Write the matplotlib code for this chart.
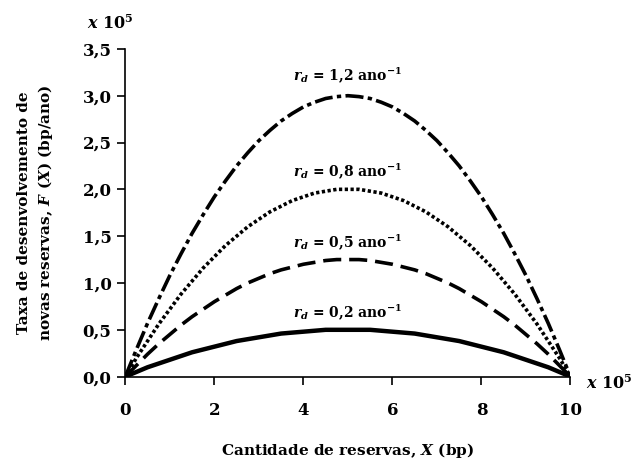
import matplotlib
matplotlib.use("Agg")
import matplotlib.pyplot as plt

plt.rcParams["font.family"] = ["DejaVu Serif"]
plt.rcParams["font.weight"] = "bold"
plt.rcParams["mathtext.fontset"] = "custom"
plt.rcParams["mathtext.rm"] = "DejaVu Serif:bold"
plt.rcParams["mathtext.it"] = "DejaVu Serif:bold:italic"
plt.rcParams["mathtext.bf"] = "DejaVu Serif:bold"

# reserves X (x 10^5 bp)
x_vals = [0, 0.25, 0.5, 0.75, 1, 1.25, 1.5, 1.75, 2, 2.25, 2.5, 2.75, 3, 3.25, 3.5,
          3.75, 4, 4.25, 4.5, 4.75, 5, 5.25, 5.5, 5.75, 6, 6.25, 6.5, 6.75, 7,
          7.25, 7.5, 7.75, 8, 8.25, 8.5, 8.75, 9, 9.25, 9.5, 9.75, 10]

# development rate F(X) (x 10^5 bp/ano)
f_12 = [0, 0.29, 0.57, 0.83, 1.08, 1.31, 1.53, 1.73, 1.92, 2.09, 2.25, 2.39, 2.52, 2.63,
        2.73, 2.81, 2.88, 2.93, 2.97, 2.99, 3.00, 2.99, 2.97, 2.93, 2.88, 2.81, 2.73,
        2.63, 2.52, 2.39, 2.25, 2.09, 1.92, 1.73, 1.53, 1.31, 1.08, 0.83, 0.57, 0.29, 0]
f_08 = [0, 0.20, 0.38, 0.56, 0.72, 0.88, 1.02, 1.16, 1.28, 1.40, 1.50, 1.60, 1.68, 1.76,
        1.82, 1.88, 1.92, 1.96, 1.98, 2.00, 2.00, 2.00, 1.98, 1.96, 1.92, 1.88, 1.82,
        1.76, 1.68, 1.60, 1.50, 1.40, 1.28, 1.16, 1.02, 0.88, 0.72, 0.56, 0.38, 0.20, 0]
f_05 = [0, 0.12, 0.24, 0.35, 0.45, 0.55, 0.64, 0.72, 0.80, 0.87, 0.94, 1.00, 1.05, 1.10,
        1.14, 1.17, 1.20, 1.22, 1.24, 1.25, 1.25, 1.25, 1.24, 1.22, 1.20, 1.17, 1.14,
        1.10, 1.05, 1.00, 0.94, 0.87, 0.80, 0.72, 0.64, 0.55, 0.45, 0.35, 0.24, 0.12, 0]
f_02 = [0, 0.05, 0.10, 0.14, 0.18, 0.22, 0.26, 0.29, 0.32, 0.35, 0.38, 0.40, 0.42, 0.44,
        0.46, 0.47, 0.48, 0.49, 0.50, 0.50, 0.50, 0.50, 0.50, 0.49, 0.48, 0.47, 0.46,
        0.44, 0.42, 0.40, 0.38, 0.35, 0.32, 0.29, 0.26, 0.22, 0.18, 0.14, 0.10, 0.05, 0]

labels = ["1,2", "0,8", "0,5", "0,2"]
label_y = [3.22, 2.19, 1.44, 0.69]

x_ticks = [0, 2, 4, 6, 8, 10]
y_ticks = [0, 0.5, 1.0, 1.5, 2.0, 2.5, 3.0, 3.5]
y_ticklabels = ["0,0", "0,5", "1,0", "1,5", "2,0", "2,5", "3,0", "3,5"]

fig = plt.figure(figsize=(6.36, 4.61), dpi=100)
ax = fig.add_axes([0.197, 0.183, 0.700, 0.711])

lw = 2.6
ax.plot(x_vals, f_12, color="black", lw=lw, dashes=(5, 1.2, 1.2, 1.2))
ax.plot(x_vals, f_08, color="black", lw=lw, dashes=(0.9, 0.7))
ax.plot(x_vals, f_05, color="black", lw=lw, dashes=(5, 2.2))
ax.plot(x_vals, f_02, color="black", lw=lw + 0.6, solid_capstyle="round",
        solid_joinstyle="round")

for lab, yy in zip(labels, label_y):
    ax.text(5.0, yy, r"$r_d$ = " + lab + r" ano$^{-1}$", ha="center", va="center",
            fontsize=10, fontweight="bold")

ax.set_xlim(0, 10)
ax.set_ylim(0, 3.5)
ax.set_xticks(x_ticks)
ax.set_xticklabels([str(t) for t in x_ticks])
ax.set_yticks(y_ticks)
ax.set_yticklabels(y_ticklabels)
ax.tick_params(axis="both", direction="out", length=6, width=1.2, labelsize=12, pad=4)
ax.tick_params(axis="x", pad=12)
for lbl in ax.get_xticklabels() + ax.get_yticklabels():
    lbl.set_fontweight("bold")

for side in ["top", "right"]:
    ax.spines[side].set_visible(False)
for side in ["left", "bottom"]:
    ax.spines[side].set_linewidth(1.2)

ax.set_xlabel(r"Cantidade de reservas, $X$ (bp)", fontsize=11, fontweight="bold", labelpad=16)
ax.set_ylabel("Taxa de desenvolvemento de\n" + r"novas reservas, $F$ ($X$) (bp/ano)",
              fontsize=11, fontweight="bold", labelpad=20, linespacing=1.35)

fig.text(0.174, 0.948, r"$x$ 10$^5$", fontsize=11.5, ha="center", va="center")
fig.text(0.958, 0.168, r"$x$ 10$^5$", fontsize=11.5, ha="center", va="center")

fig.savefig("out.png", dpi=100)
